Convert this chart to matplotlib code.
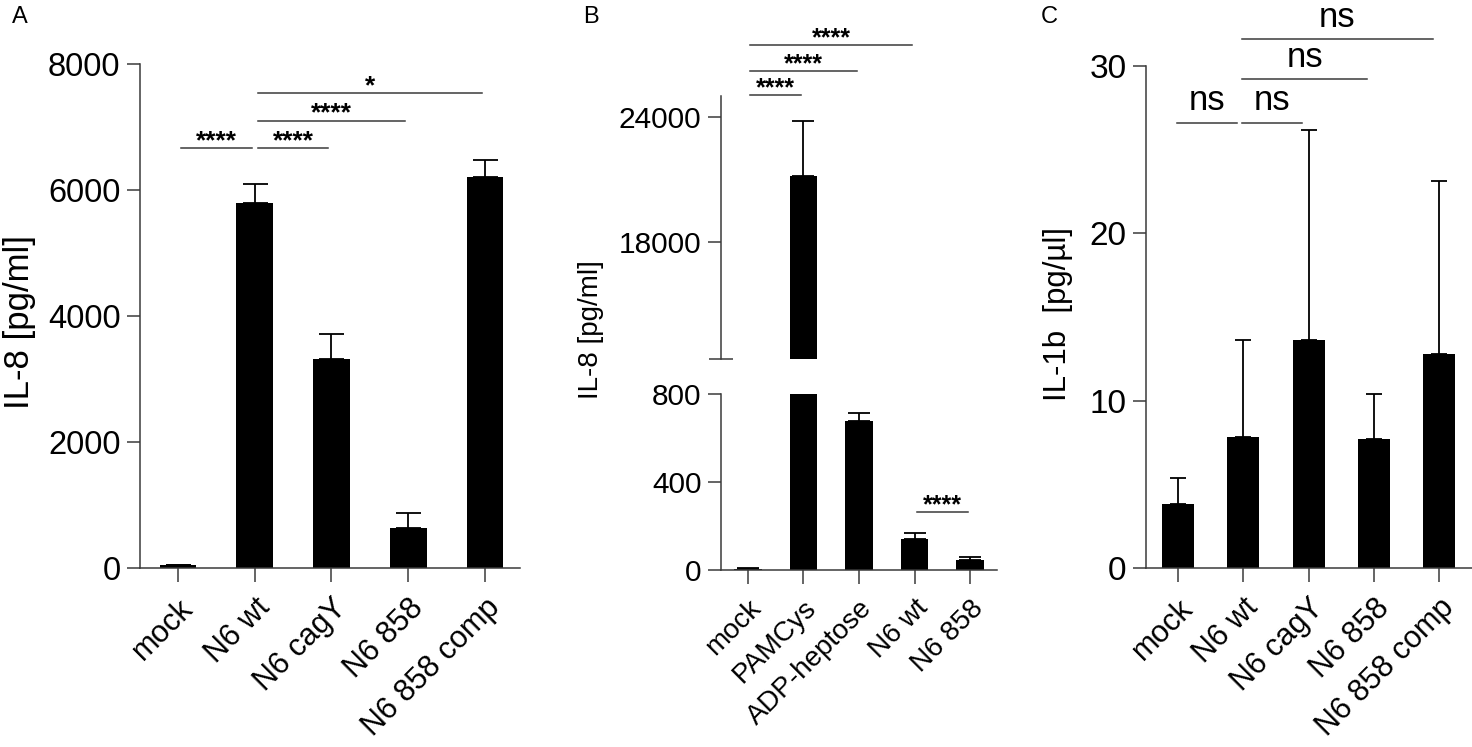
import matplotlib
matplotlib.use('Agg')
from matplotlib import pyplot as plt
from matplotlib import font_manager
import numpy as np

installed = {f.name for f in font_manager.fontManager.ttflist}
NARROW = 'Liberation Sans Narrow' if 'Liberation Sans Narrow' in installed else 'Liberation Sans'
plt.rcParams['font.family'] = ['Liberation Sans', 'DejaVu Sans']

# panel A: IL-8
a_groups = ['mock', 'N6 wt', 'N6 cagY', 'N6 858', 'N6 858 comp']
a_mean = [45, 5800, 3310, 640, 6200]
a_err = [5, 300, 400, 240, 270]
a_sig = [(0, 1, '****', 6660), (1, 2, '****', 6660), (1, 3, '****', 7100), (1, 4, '*', 7540)]

# panel B: IL-8, broken axis
b_groups = ['mock', 'PAMCys', 'ADP-heptose', 'N6 wt', 'N6 858']
b_mean = [5, 21160, 677, 141, 45]
b_err = [5, 2640, 36, 27, 14]
b_sig_top = [(0, 1, '****', 25050), (0, 2, '****', 26200), (0, 3, '****', 27450)]
b_sig_low = [(3, 4, '****', 264)]

# panel C: IL-1b
c_groups = ['mock', 'N6 wt', 'N6 cagY', 'N6 858', 'N6 858 comp']
c_mean = [3.8, 7.8, 13.6, 7.7, 12.8]
c_err = [1.6, 5.8, 12.6, 2.7, 10.3]
c_sig = [(0, 1, 'ns', 26.6), (1, 2, 'ns', 26.6), (1, 3, 'ns', 29.2), (1, 4, 'ns', 31.6)]

W, H = 1472, 747
SPINE = '#3a3a3a'
LW = 1.1


def px_axes(left, top, right, bottom):
    return fig.add_axes([left / W, 1 - bottom / H, (right - left) / W, (bottom - top) / H])


def style(ax, tick_size):
    ax.spines['top'].set_visible(False)
    ax.spines['right'].set_visible(False)
    for s in ('left', 'bottom'):
        ax.spines[s].set_color(SPINE)
        ax.spines[s].set_linewidth(LW)
    ax.tick_params(axis='y', direction='out', length=9.5, width=LW, color=SPINE, pad=4.5,
                   labelsize=tick_size)
    ax.tick_params(axis='x', direction='out', length=10, width=LW, color=SPINE, pad=8)
    for lab in ax.get_yticklabels():
        lab.set_family(NARROW)


def bars(ax, means, errs, width, capsize):
    x = np.arange(len(means))
    ax.bar(x, means, width, color='black', zorder=2)
    ax.errorbar(x, means, yerr=[np.zeros(len(errs)), errs], fmt='none', ecolor='black',
                elinewidth=1.3, capsize=capsize, capthick=1.3, zorder=1)


def xlabels(ax, groups, size):
    ax.set_xticks(np.arange(len(groups)))
    ax.set_xticklabels(groups, rotation=45, ha='right', va='top', rotation_mode='anchor',
                       fontsize=size)


def sig(ax, comps, size, off, shift=0.0, weight='normal'):
    for i, j, txt, y in comps:
        x0, x1 = i + 0.04 + shift, j - 0.04 + shift
        ax.plot([x0, x1], [y, y], color=SPINE, lw=LW, clip_on=False)
        ax.annotate(txt, xy=((x0 + x1) / 2, y), xytext=(0, off), textcoords='offset points',
                    ha='center', va='baseline', fontsize=size, family=NARROW,
                    fontweight=weight, annotation_clip=False)


fig = plt.figure(figsize=(W / 100, H / 100), dpi=100)

# ---- A
ax = px_axes(140, 64, 520, 568)
bars(ax, a_mean, a_err, 0.48, 9)
ax.set_xlim(-0.495, 4.456)
ax.set_ylim(0, 8000)
ax.set_yticks([0, 2000, 4000, 6000, 8000])
xlabels(ax, a_groups, 22)
style(ax, 23.5)
fig.text(19 / W, 1 - 322 / H, 'IL-8 [pg/ml]', rotation=90, ha='center', va='center',
         fontsize=25)
sig(ax, a_sig, 19, 0, weight='bold')

# ---- B (broken axis)
b_low = px_axes(721, 394, 997, 570)
b_top = px_axes(721, 96, 997, 359)
bars(b_low, b_mean, b_err, 0.49, 8)
bars(b_top, b_mean, b_err, 0.49, 8)
for a in (b_low, b_top):
    a.set_xlim(-0.486, 4.486)
b_low.set_ylim(0, 800)
b_low.set_yticks([0, 400, 800])
b_top.set_ylim(12400, 25000)
b_top.set_yticks([18000, 24000])
xlabels(b_low, b_groups, 20)
style(b_low, 21.5)
style(b_top, 21.5)
b_top.spines['bottom'].set_visible(False)
b_top.tick_params(axis='x', bottom=False, labelbottom=False)
b_low.set_yticks([800], minor=True)
b_top.set_yticks([12400], minor=True)
for a in (b_low, b_top):
    a.tick_params(axis='y', which='minor', direction='inout', length=17, width=LW, color=SPINE)
fig.text(591 / W, 1 - 330 / H, 'IL-8 [pg/ml]', rotation=90, ha='center', va='center',
         fontsize=20)
sig(b_top, b_sig_top, 18, 0, weight='bold')
sig(b_low, b_sig_low, 18, 0, weight='bold')

# ---- C
ax = px_axes(1146, 66, 1472, 568)
bars(ax, c_mean, c_err, 0.49, 6)
ax.set_xlim(-0.49, 4.5)
ax.set_ylim(0, 30)
ax.set_yticks([0, 10, 20, 30])
xlabels(ax, c_groups, 22)
style(ax, 24)
fig.text(1058 / W, 1 - 314 / H, 'IL-1b  [pg/\u00b5l]', rotation=90, ha='center',
         va='center', fontsize=22.5)
sig(ax, c_sig, 25, 9, shift=-0.06)

for x, t in ((12, 'A'), (583, 'B'), (1041, 'C')):
    fig.text(x / W, 1 - 6 / H, t, ha='left', va='top', fontsize=17, family=NARROW)

fig.savefig('out.png', dpi=100)
